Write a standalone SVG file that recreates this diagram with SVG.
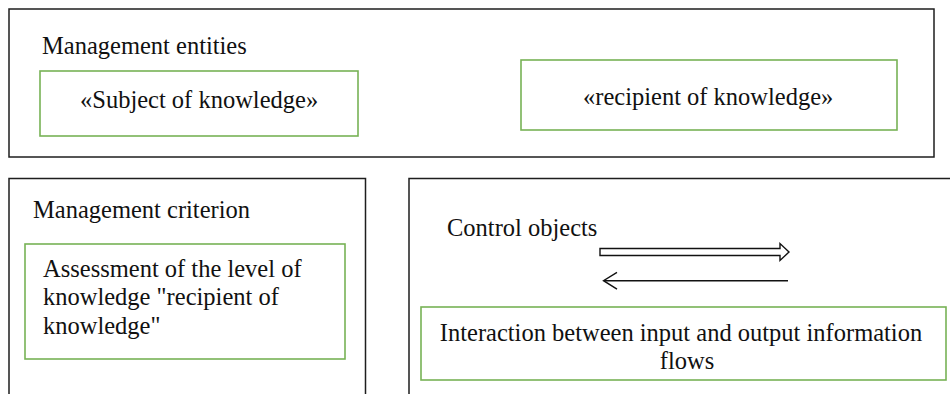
<svg xmlns="http://www.w3.org/2000/svg" width="950" height="394" viewBox="0 0 950 394">
<style>
.outer{fill:none;stroke:#1e1e1e;stroke-width:1.5}
.inner{fill:#fff;stroke:#77b255;stroke-width:1.6}
.t{font-family:'Liberation Serif','DejaVu Serif','Times New Roman',serif;font-size:24.5px;fill:#111}
.c{text-anchor:middle}
.arr{stroke:#111;stroke-width:1.4;fill:none}
</style>
<rect width="950" height="394" fill="#fff"/>
<g id="management-entities">
<rect class="outer" x="9" y="9" width="925" height="148"/>
<text class="t" font-family="Liberation Serif, serif" x="42" y="54">Management entities</text>
</g>
<g id="subject-of-knowledge">
<rect class="inner" x="40" y="71" width="318" height="65"/>
<text class="t" font-family="Liberation Serif, serif" x="80" y="108">«Subject of knowledge»</text>
</g>
<g id="recipient-of-knowledge">
<rect class="inner" x="521" y="60" width="376" height="70"/>
<text class="t" font-family="Liberation Serif, serif" x="583" y="105">«recipient of knowledge»</text>
</g>
<g id="management-criterion">
<path class="outer" d="M9,395 V178.5 H365.5 V395"/>
<text class="t" font-family="Liberation Serif, serif" x="33" y="218">Management criterion</text>
</g>
<g id="assessment">
<rect class="inner" x="25" y="244" width="320" height="115"/>
<text class="t" font-family="Liberation Serif, serif" x="43" y="277">Assessment of the level of</text>
<text class="t" font-family="Liberation Serif, serif" x="43" y="305">knowledge "recipient of</text>
<text class="t" font-family="Liberation Serif, serif" x="43" y="334">knowledge"</text>
</g>
<g id="control-objects">
<path class="outer" d="M409,395 V178.5 H951"/>
<text class="t" font-family="Liberation Serif, serif" x="447" y="236">Control objects</text>
</g>
<g id="interaction">
<rect class="inner" x="421" y="307" width="525" height="73"/>
<text class="t c" font-family="Liberation Serif, serif" x="681" y="341">Interaction between input and output information</text>
<text class="t c" font-family="Liberation Serif, serif" x="687" y="369">flows</text>
</g>
<g id="connectors">
<polygon class="arr" points="600,248.5 780,248.5 780,243.5 789,252 780,260.5 780,255.5 600,255.5" style="fill:#fff"/>
<line class="arr" x1="788" y1="280.7" x2="604" y2="280.7"/>
<polyline class="arr" points="617,272.3 603.5,280.7 617,289.2"/>
</g>
</svg>
